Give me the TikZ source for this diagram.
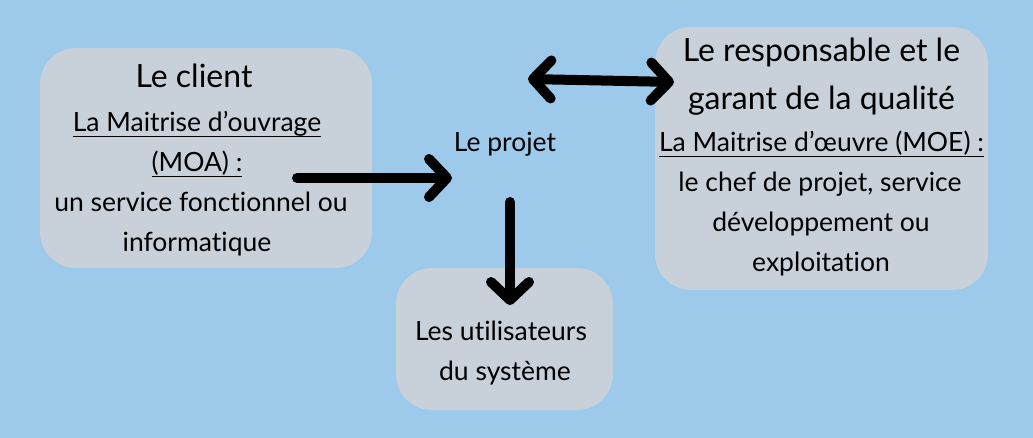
\documentclass[tikz,border=0pt]{standalone}
\usepackage{fontspec}
\setmainfont{Lato}[Ligatures={NoCommon}]
\usetikzlibrary{arrows.meta}
\definecolor{bgblue}{RGB}{157,202,235}
\definecolor{boxgrey}{RGB}{200,208,218}
\newcommand\myul[1]{\setbox0\hbox{#1}\leavevmode\rlap{\vrule width \wd0 height -4pt depth 5.5pt}\box0}
\tikzset{
  box/.style={draw=none, fill=boxgrey, rounded corners=36pt, inner sep=0pt},
  bodytext/.style={anchor=base, font=\fontsize{26.5}{40}\selectfont, text=black, inner sep=0pt},
  titletext/.style={anchor=base, font=\fontsize{32}{40}\selectfont, text=black, inner sep=0pt},
  bigarrow/.style={line width=10pt, line cap=round, -{Straight Barb[length=18pt,width=38pt,round]}},
  dblarrow/.style={line width=10pt, line cap=round, {Straight Barb[length=18pt,width=38pt,round]}-{Straight Barb[length=18pt,width=38pt,round]}}
}
\begin{document}
\begin{tikzpicture}[x=1pt,y=-1pt]
\fill[bgblue] (0,0) rectangle (1033,438);
\useasboundingbox (0,0) rectangle (1033,438);
% boxes
\node[box, minimum width=332pt, minimum height=220pt] (client) at (206,158) {};
\node[box, minimum width=333pt, minimum height=263pt] (moe) at (821.5,158.5) {};
\node[box, minimum width=217pt, minimum height=142pt] (users) at (504.5,339) {};
% client texts
\node[titletext] (c1) at (194,88) {Le client};
\node[bodytext] (c2) at (197,132) {\myul{La Maitrise d’ouvrage}};
\node[bodytext] (c3) at (197,172) {\myul{(MOA) :}};
\node[bodytext] (c4) at (201,212) {un service fonctionnel ou};
\node[bodytext] (c5) at (197,252) {informatique};
% moe texts
\node[titletext] (m1) at (821.5,62) {Le responsable et le};
\node[titletext] (m2) at (821.5,110) {garant de la qualité};
\node[bodytext] (m3) at (821.5,152) {\myul{La Maitrise d’œuvre (MOE) :}};
\node[bodytext] (m4) at (820,192) {le chef de projet, service};
\node[bodytext] (m5) at (821,232) {développement ou};
\node[bodytext] (m6) at (821,272) {exploitation};
% projet
\node[bodytext] (projet) at (505,152) {Le projet};
% users
\node[bodytext] (u1) at (501,340) {Les utilisateurs};
\node[bodytext] (u2) at (505,380) {du système};
% connector ends
\coordinate (a1s) at (297,178);
\coordinate (a1e) at (452,178);
\coordinate (a2s) at (528,79);
\coordinate (a2e) at (674,82);
\coordinate (a3s) at (510,202);
\coordinate (a3e) at (510,305);
\draw[bigarrow] (a1s) -- (a1e);
\draw[dblarrow] (a2s) -- (a2e);
\draw[bigarrow] (a3s) -- (a3e);
\end{tikzpicture}
\end{document}
